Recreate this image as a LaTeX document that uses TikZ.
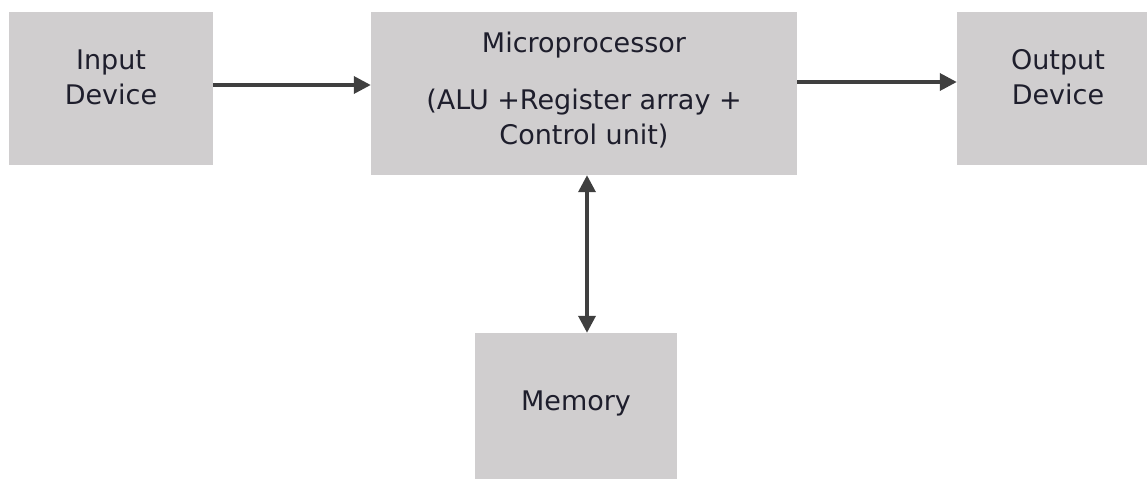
\documentclass[tikz,border=0pt]{standalone}
\usepackage{fontspec}
\setmainfont{DejaVu Sans}
\usetikzlibrary{arrows.meta}
\definecolor{boxgray}{HTML}{D0CECF}
\definecolor{arrgray}{HTML}{3F3F3F}
\definecolor{txt}{HTML}{1E1E2C}
\begin{document}
\begin{tikzpicture}[x=1pt,y=1pt,
  blk/.style={fill=boxgray,draw=none,inner sep=0pt},
  lbl/.style={inner sep=0pt,align=center,text=txt,font=\fontsize{27}{35}\selectfont},
  arr/.style={draw=arrgray,line width=3.5pt,-{Triangle[length=17pt,width=17pt]}},
  darr/.style={draw=arrgray,line width=3.5pt,{Triangle[length=17pt,width=17pt]}-{Triangle[length=17pt,width=17pt]}}]
\useasboundingbox (0,0) rectangle (1147,-479);
\node[blk,minimum width=204pt,minimum height=153pt] (in) at (111,-88.5) {};
\node[blk,minimum width=426pt,minimum height=163pt] (mp) at (584,-93.5) {};
\node[blk,minimum width=190pt,minimum height=153pt] (out) at (1052,-88.5) {};
\node[blk,minimum width=202pt,minimum height=146pt] (mem) at (576,-406) {};
\node[lbl] (inlbl) at ([yshift=11pt]in.center) {Input\\Device};
\node[lbl] (mplbl) at ([yshift=3pt]mp.center) {Microprocessor\\[22pt](ALU +Register array +\\Control unit)};
\node[lbl] (outlbl) at ([xshift=6pt,yshift=11pt]out.center) {Output\\Device};
\node[lbl] (memlbl) at ([yshift=3pt]mem.center) {Memory};
\draw[arr] ([yshift=3.5pt]in.east) -- ([yshift=3.5pt]in.east -| mp.west);
\draw[arr] ([yshift=6.5pt]out.west -| mp.east) -- ([yshift=6.5pt]out.west);
\draw[darr] ([xshift=3pt]mp.south) -- ([xshift=3pt]mp.south |- mem.north);
\end{tikzpicture}
\end{document}
